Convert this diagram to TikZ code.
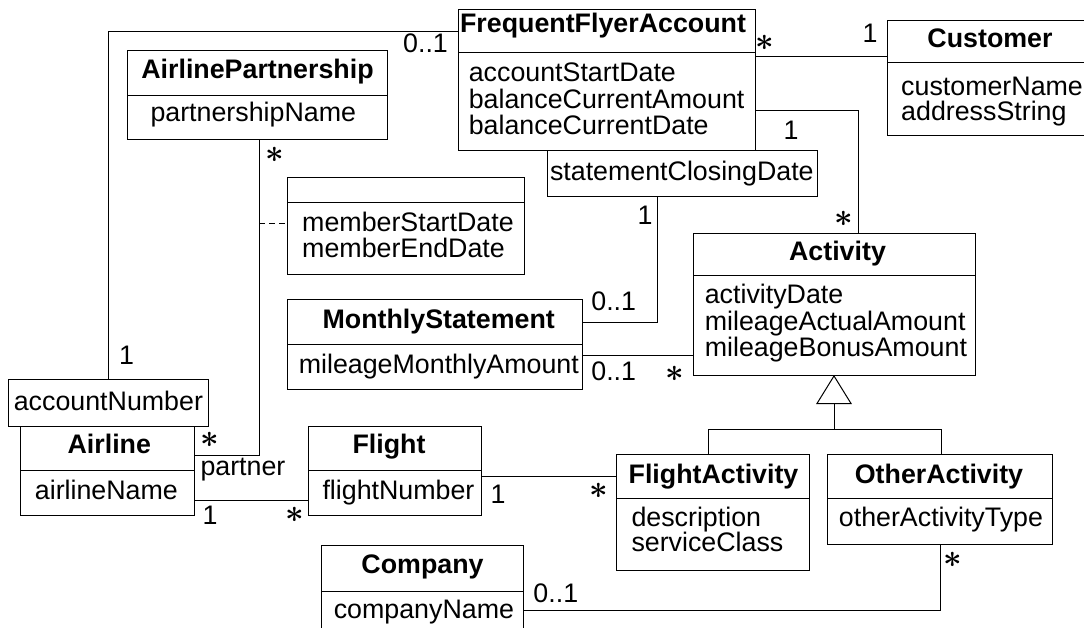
\documentclass[tikz,border=0pt]{standalone}
\usepackage{fontspec}
\setmainfont{Liberation Sans}
\usetikzlibrary{fit,arrows.meta}
\newcommand{\many}{\scalebox{1.3}{\boldmath$\ast$}}
\begin{document}
\begin{tikzpicture}[x=1pt,y=-1pt,line width=1pt,
  font=\fontsize{26.8}{30}\selectfont,
  cls/.style={draw,inner sep=0pt,outer sep=0pt},
  ttl/.style={font=\fontsize{26.8}{30}\selectfont\bfseries,inner sep=0pt,anchor=base},
  attr/.style={font=\fontsize{26.8}{30}\selectfont,inner sep=0pt,anchor=base west},
  mult/.style={font=\fontsize{26.8}{30}\selectfont,inner sep=0pt,anchor=center},
  conn/.style={line width=1pt},
  gen/.style={line width=1pt,-{Triangle[open,length=29pt,width=35.6pt,fill=white]}}]
\useasboundingbox (0,0) rectangle (1084,628);

% ---------- class boxes ----------
\node[cls,fit={(458,9.3) (755,150.7)}] (ffa) {};
\draw (ffa.west |- 0,52.7) -- (ffa.east |- 0,52.7);
\node[ttl] (ffa-t) at (603,32.3) {FrequentFlyerAccount};
\node[attr] (ffa-a1) at (468.3,81.7) {accountStartDate};
\node[attr] (ffa-a2) at (468.3,108.3) {balanceCurrentAmount};
\node[attr] (ffa-a3) at (468.3,135) {balanceCurrentDate};

\node[cls,fit={(547.5,150.7) (817,196.7)}] (scd) {};
\node[attr] (scd-t) at (549.5,181) {statementClosingDate};

\node[cls,fit={(887.3,20.7) (1100,136)}] (cust) {};
\draw (cust.west |- 0,63) -- (cust.east |- 0,63);
\node[ttl] (cust-t) at (990,48) {Customer};
\node[attr] (cust-a1) at (900.7,96) {customerName};
\node[attr] (cust-a2) at (900.7,120.3) {addressString};

\node[cls,fit={(127.7,51) (387.7,140)}] (ap) {};
\draw (ap.west |- 0,95.3) -- (ap.east |- 0,95.3);
\node[ttl] (ap-t) at (257.5,78.3) {AirlinePartnership};
\node[attr] (ap-a1) at (150,121.7) {partnershipName};

\node[cls,fit={(287.3,177.5) (524.5,275)}] (memb) {};
\draw (memb.west |- 0,203) -- (memb.east |- 0,203);
\node[attr] (memb-a1) at (301.7,232) {memberStartDate};
\node[attr] (memb-a2) at (301.7,258) {memberEndDate};

\node[cls,fit={(287.3,299.3) (582.7,389)}] (ms) {};
\draw (ms.west |- 0,344) -- (ms.east |- 0,344);
\node[ttl] (ms-t) at (438.7,328.3) {MonthlyStatement};
\node[attr] (ms-a1) at (298.3,373) {mileageMonthlyAmount};

\node[cls,fit={(693.3,233.3) (975.3,375)}] (act) {};
\draw (act.west |- 0,275.3) -- (act.east |- 0,275.3);
\node[ttl] (act-t) at (837.5,260.7) {Activity};
\node[attr] (act-a1) at (704.3,304) {activityDate};
\node[attr] (act-a2) at (704.3,330.7) {mileageActualAmount};
\node[attr] (act-a3) at (704.3,356.7) {mileageBonusAmount};

\node[cls,fit={(616.3,454.3) (809.3,570)}] (fa) {};
\draw (fa.west |- 0,498.3) -- (fa.east |- 0,498.3);
\node[ttl] (fa-t) at (713.5,483.3) {FlightActivity};
\node[attr] (fa-a1) at (631,526.7) {description};
\node[attr] (fa-a2) at (631,551.7) {serviceClass};

\node[cls,fit={(827.3,454.3) (1052.8,544)}] (oa) {};
\draw (oa.west |- 0,498.3) -- (oa.east |- 0,498.3);
\node[ttl] (oa-t) at (939,483.3) {OtherActivity};
\node[attr] (oa-a1) at (838.4,526.7) {otherActivityType};

\node[cls,fit={(8.3,379) (208.3,426)}] (acct) {};
\node[attr] (acct-t) at (13.3,410) {accountNumber};

\node[cls,fit={(20.7,426) (194.3,515.5)}] (airline) {};
\draw (airline.west |- 0,470.3) -- (airline.east |- 0,470.3);
\node[ttl] (airline-t) at (109.3,453.3) {Airline};
\node[attr] (airline-a1) at (34.4,499) {airlineName};

\node[cls,fit={(308.3,426) (481.4,515.7)}] (flight) {};
\draw (flight.west |- 0,470.3) -- (flight.east |- 0,470.3);
\node[ttl] (flight-t) at (389,453.3) {Flight};
\node[attr] (flight-a1) at (322,499) {flightNumber};

\node[cls,fit={(321.5,545.5) (523.4,660)}] (comp) {};
\draw (comp.west |- 0,591) -- (comp.east |- 0,591);
\node[ttl] (comp-t) at (422.5,573.3) {Company};
\node[attr] (comp-a1) at (333.3,618.3) {companyName};

% ---------- associations ----------
\draw[conn] (acct.north) |- (ffa.west |- 0,31.7);
\draw[conn] (ffa.east |- 0,57) -- (cust.west |- 0,57);
\draw[conn] (ffa.east |- 0,111) -| (act.north -| 858.3,0);
\draw[conn] (scd.south -| 657.5,0) |- (ms.east |- 0,322.3);
\draw[conn] (ms.east |- 0,355) -- (act.west |- 0,355);
\draw[conn] (ap.south -| 259.3,0) |- (airline.east |- 0,455);
\draw[conn,dashed,dash pattern=on 6pt off 4pt] (259.3,223.3) -- (memb.west |- 0,223.3);
\draw[conn] (airline.east |- 0,500) -- (flight.west |- 0,500);
\draw[conn] (flight.east |- 0,476) -- (fa.west |- 0,476);
\draw[conn] (oa.south -| 940.8,0) |- (comp.east |- 0,610.5);

% ---------- generalization ----------
\coordinate (hub) at (834,429.3);
\draw[conn] (fa.north -| 708.6,0) |- (hub) -| (oa.north -| 941.5,0);
\draw[gen] (hub) -- (act.south -| hub);

% ---------- multiplicities and roles ----------
\node[mult] (m1) at (126.7,355) {1};
\node[mult] (m2) at (425.5,43) {0..1};
\node[mult] (m3) at (765,43) {\many};
\node[mult] (m4) at (870,33) {1};
\node[mult] (m5) at (791,130) {1};
\node[mult] (m6) at (843.3,219) {\many};
\node[mult] (m7) at (645,215) {1};
\node[mult] (m8) at (613.7,301.7) {0..1};
\node[mult] (m9) at (613.7,371.7) {0..1};
\node[mult] (m10) at (675,374) {\many};
\node[mult] (m11) at (275,155) {\many};
\node[mult] (m12) at (210,440) {\many};
\node[attr] (role) at (200,475) {partner};
\node[mult] (m13) at (210,515) {1};
\node[mult] (m14) at (294.3,514.4) {\many};
\node[mult] (m15) at (498,494) {1};
\node[mult] (m16) at (599,491) {\many};
\node[mult] (m17) at (953,560) {\many};
\node[mult] (m18) at (555.8,593.3) {0..1};
\end{tikzpicture}
\end{document}
